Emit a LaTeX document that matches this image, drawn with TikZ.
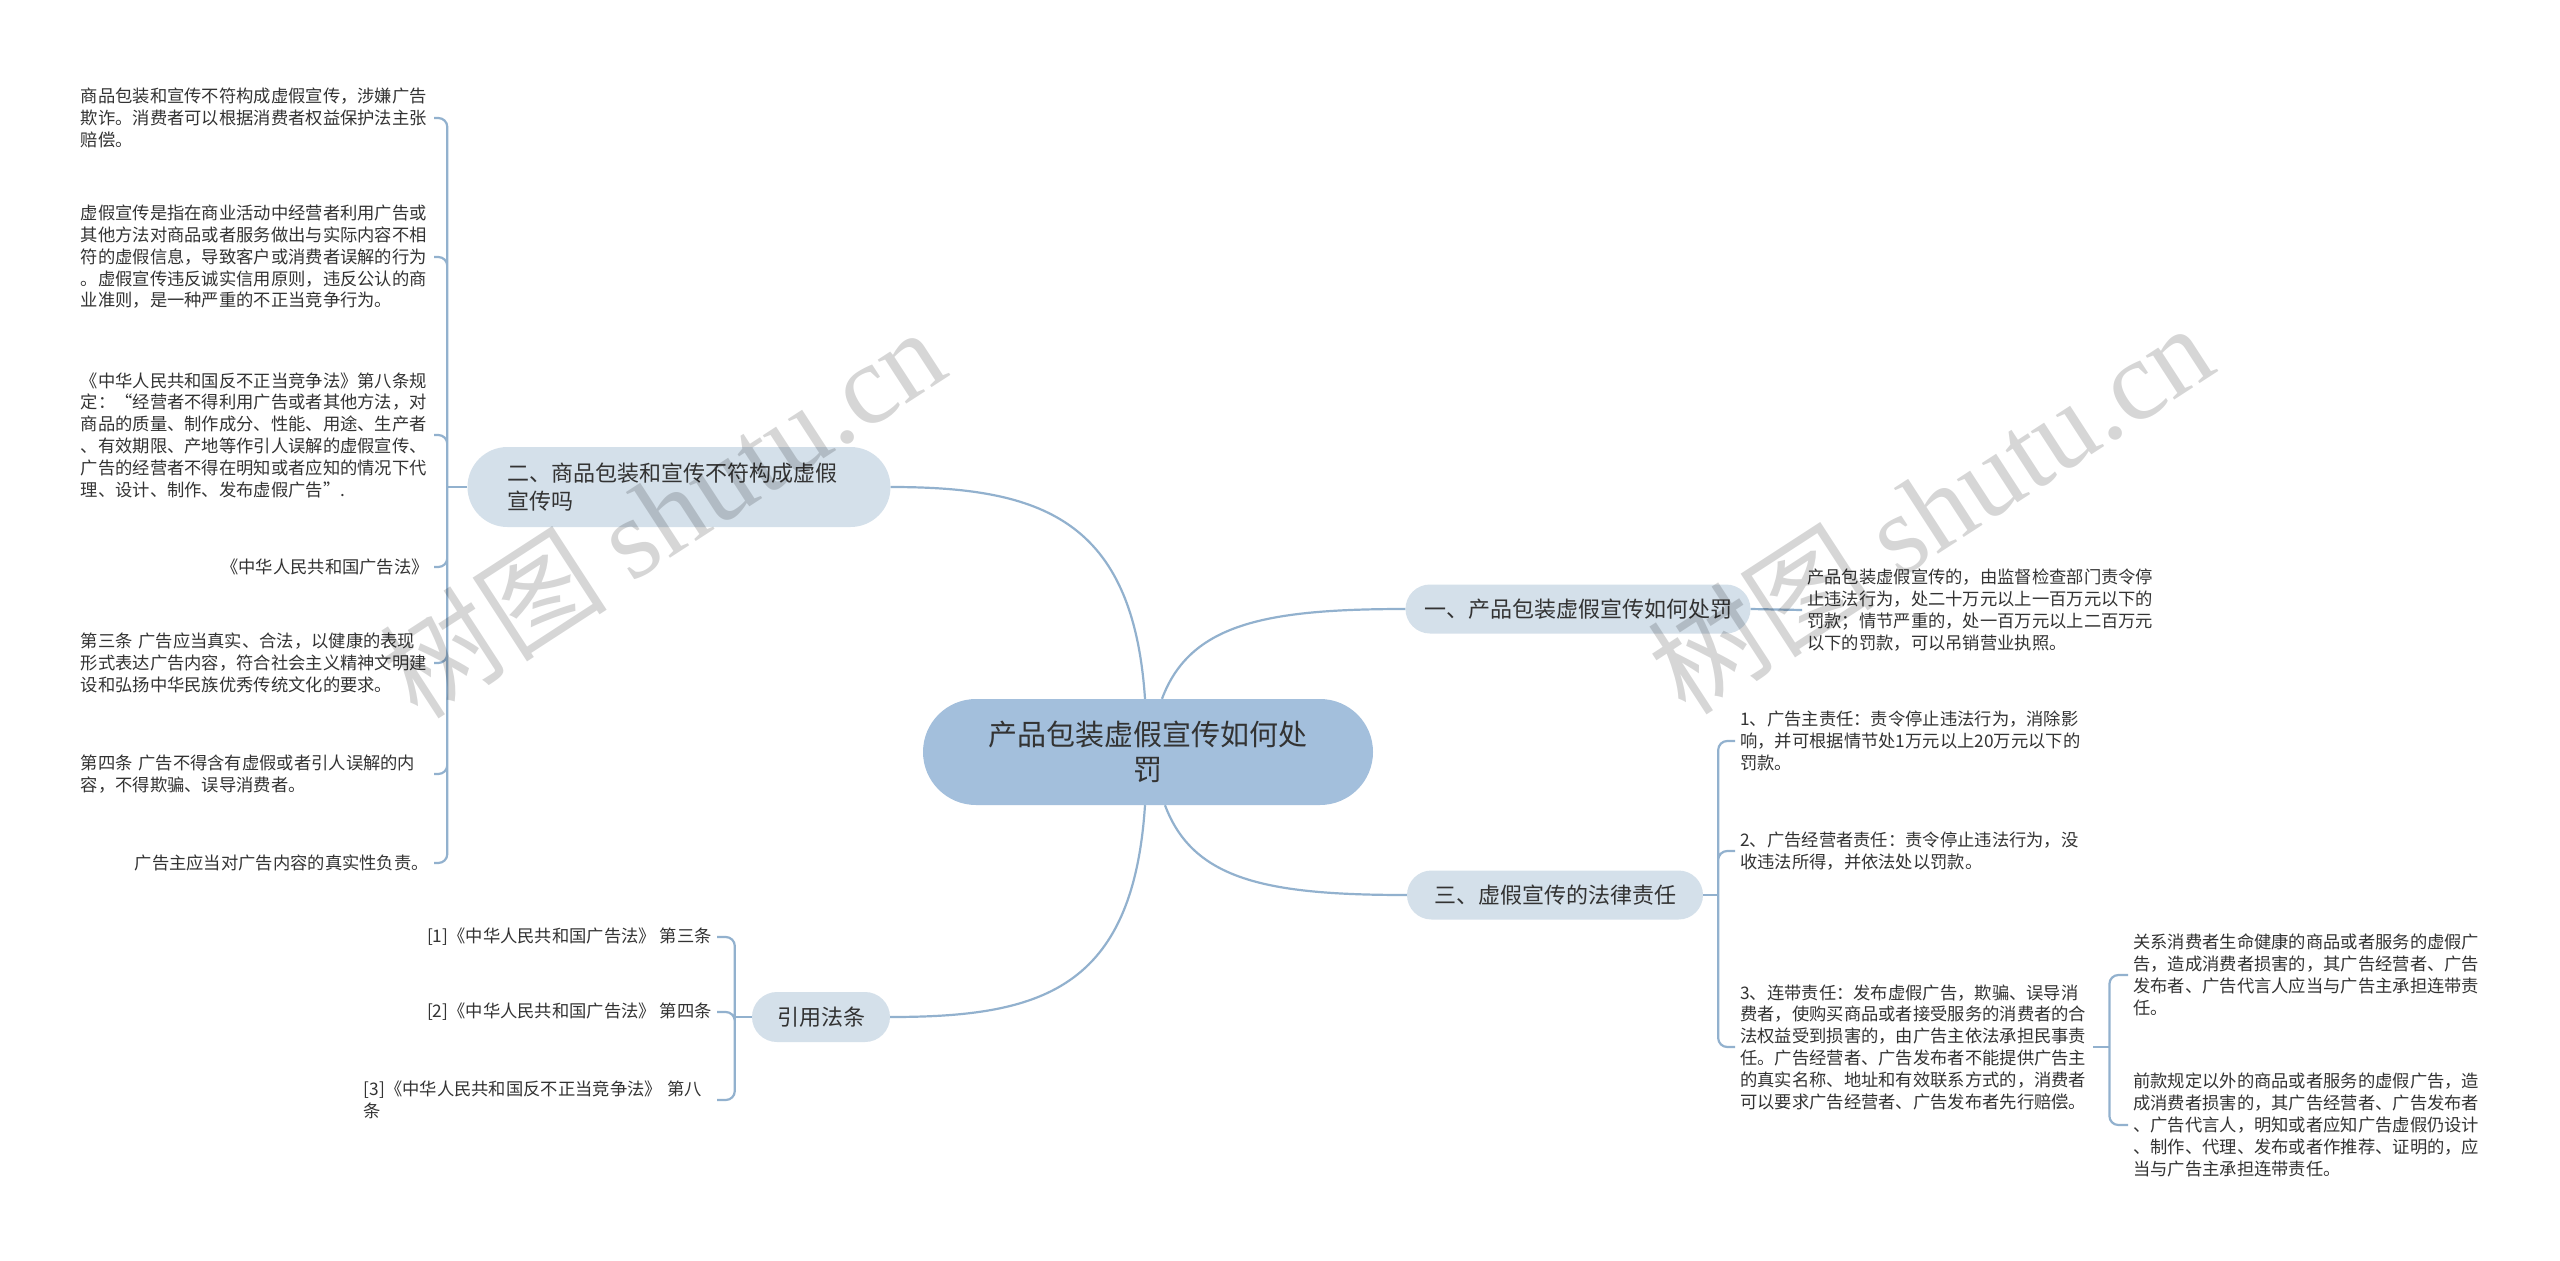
\documentclass[tikz,border=0pt]{standalone}
\usepackage{fontspec}
\setmainfont{Noto Sans CJK SC}
\newfontfamily\wmfont{Liberation Serif}
\usetikzlibrary{positioning}
\definecolor{rootblue}{HTML}{A3BFDC}
\definecolor{branchgray}{HTML}{D4E0EA}
\definecolor{linkblue}{HTML}{92B1CE}
\definecolor{inkgray}{HTML}{333333}

\begin{document}
\begin{tikzpicture}[x=1pt,y=-1pt,
  link/.style={draw=linkblue,line width=2.2pt},
  brace/.style={link,rounded corners=9pt},
  root/.style={fill=rootblue,rounded corners=53pt,minimum width=450pt,minimum height=106pt,
    align=center,text=inkgray,font=\fontsize{29}{35}\selectfont},
  branch/.style={fill=branchgray,text=inkgray,inner sep=0pt,font=\fontsize{22}{28}\selectfont},
  leaf/.style={text=inkgray,align=left,inner xsep=5pt,inner ysep=2pt,font=\fontsize{17.3}{21.8}\selectfont},
  wideleaf/.style={leaf,text width=348pt},
  wm/.style={text=black,text opacity=0.16,inner sep=0pt,font=\fontsize{114}{114}\selectfont}]
  \fill[white] (0,0) rectangle (2560,1261);
  \useasboundingbox (0,0) rectangle (2560,1261);

  \node[root] (root) at (1148,752) {产品包装虚假宣传如何处\\罚};
  \node[branch,minimum width=345pt,minimum height=49pt,rounded corners=24.5pt] (pen) at (1578,609) {一、产品包装虚假宣传如何处罚};
  \node[branch,minimum width=423pt,minimum height=80pt,rounded corners=40pt,text width=343pt,align=left] (judge) at (679,487) {二、商品包装和宣传不符构成虚假\\宣传吗};
  \node[branch,minimum width=296pt,minimum height=49pt,rounded corners=24.5pt] (duty) at (1555,895) {三、虚假宣传的法律责任};
  \node[branch,minimum width=138pt,minimum height=50pt,rounded corners=25pt] (cite) at (821,1017) {引用法条};

  \draw[link] ([xshift=14pt]root.north) .. controls +(28,-75) and +(-140,0) .. (pen.west);
  \draw[link] ([xshift=-3pt]root.north) .. controls +(-12,-180) and +(150,0) .. (judge.east);
  \draw[link] ([xshift=17pt]root.south) .. controls +(28,75) and +(-140,0) .. (duty.west);
  \draw[link] ([xshift=-3pt]root.south) .. controls +(-12,185) and +(150,0) .. (cite.east);

  % 一
  \node[wideleaf,anchor=west] (pen1) at (1802,610) {产品包装虚假宣传的，由监督检查部门责令停\\止违法行为，处二十万元以上一百万元以下的\\罚款；情节严重的，处一百万元以上二百万元\\以下的罚款，可以吊销营业执照。};
  \draw[link] (pen.east) -- (pen1.west);

  % 二
  \node[wideleaf,anchor=east] (judge1) at (434,118) {商品包装和宣传不符构成虚假宣传，涉嫌广告\\欺诈。消费者可以根据消费者权益保护法主张\\赔偿。};
  \node[wideleaf,anchor=east] (judge2) at (434,257) {虚假宣传是指在商业活动中经营者利用广告或\\其他方法对商品或者服务做出与实际内容不相\\符的虚假信息，导致客户或消费者误解的行为\\。虚假宣传违反诚实信用原则，违反公认的商\\业准则，是一种严重的不正当竞争行为。};
  \node[wideleaf,anchor=east] (judge3) at (434,435) {《中华人民共和国反不正当竞争法》第八条规\\定：“经营者不得利用广告或者其他方法，对\\商品的质量、制作成分、性能、用途、生产者\\、有效期限、产地等作引人误解的虚假宣传、\\广告的经营者不得在明知或者应知的情况下代\\理、设计、制作、发布虚假广告”.};
  \node[leaf,anchor=east] (judge4) at (434,567) {《中华人民共和国广告法》};
  \node[wideleaf,anchor=east] (judge5) at (434,663) {第三条 广告应当真实、合法，以健康的表现\\形式表达广告内容，符合社会主义精神文明建\\设和弘扬中华民族优秀传统文化的要求。};
  \node[wideleaf,anchor=east] (judge6) at (434,774) {第四条 广告不得含有虚假或者引人误解的内\\容，不得欺骗、误导消费者。};
  \node[leaf,anchor=east] (judge7) at (434,863) {广告主应当对广告内容的真实性负责。};
  \coordinate (judgej) at ([xshift=-20pt]judge.west);
  \draw[link] (judge.west) -- (judgej);
  \draw[brace] (judgej) |- (judge1.east) (judgej) |- (judge2.east) (judgej) |- (judge3.east)
    (judgej) |- (judge4.east) (judgej) |- (judge5.east) (judgej) |- (judge6.east) (judgej) |- (judge7.east);

  % 三
  \node[wideleaf,anchor=west] (duty1) at (1735,741) {1、广告主责任：责令停止违法行为，消除影\\响，并可根据情节处1万元以上20万元以下的\\罚款。};
  \node[wideleaf,anchor=west] (duty2) at (1735,851) {2、广告经营者责任：责令停止违法行为，没\\收违法所得，并依法处以罚款。};
  \node[wideleaf,anchor=west] (duty3) at (1735,1047) {3、连带责任：发布虚假广告，欺骗、误导消\\费者，使购买商品或者接受服务的消费者的合\\法权益受到损害的，由广告主依法承担民事责\\任。广告经营者、广告发布者不能提供广告主\\的真实名称、地址和有效联系方式的，消费者\\可以要求广告经营者、广告发布者先行赔偿。};
  \coordinate (dutyj) at ([xshift=15pt]duty.east);
  \draw[link] (duty.east) -- (dutyj);
  \draw[brace] (dutyj) |- (duty1.west) (dutyj) |- (duty2.west) (dutyj) |- (duty3.west);

  \node[wideleaf,anchor=west] (joint1) at (2128,975) {关系消费者生命健康的商品或者服务的虚假广\\告，造成消费者损害的，其广告经营者、广告\\发布者、广告代言人应当与广告主承担连带责\\任。};
  \node[wideleaf,anchor=west] (joint2) at (2128,1125) {前款规定以外的商品或者服务的虚假广告，造\\成消费者损害的，其广告经营者、广告发布者\\、广告代言人，明知或者应知广告虚假仍设计\\、制作、代理、发布或者作推荐、证明的，应\\当与广告主承担连带责任。};
  \coordinate (jointj) at ([xshift=16pt]duty3.east);
  \draw[link] (duty3.east) -- (jointj);
  \draw[brace] (jointj) |- (joint1.west) (jointj) |- (joint2.west);

  % 引用法条
  \node[leaf,anchor=east] (cite1) at (717,937) {[1]《中华人民共和国广告法》 第三条};
  \node[leaf,anchor=east] (cite2) at (717,1012) {[2]《中华人民共和国广告法》 第四条};
  \node[wideleaf,anchor=east] (cite3) at (717,1100) {[3]《中华人民共和国反不正当竞争法》 第八\\条};
  \coordinate (citej) at ([xshift=-17pt]cite.west);
  \draw[link] (cite.west) -- (citej);
  \draw[brace] (citej) |- (cite1.east) (citej) |- (cite2.east) (citej) |- (cite3.east);

  % watermark
  \node[wm,rotate=33] (wmleft) at (662,512) {树图 {\wmfont shutu.cn}};
  \node[wm,rotate=33] (wmright) at (1930,508) {树图 {\wmfont shutu.cn}};
\end{tikzpicture}
\end{document}
